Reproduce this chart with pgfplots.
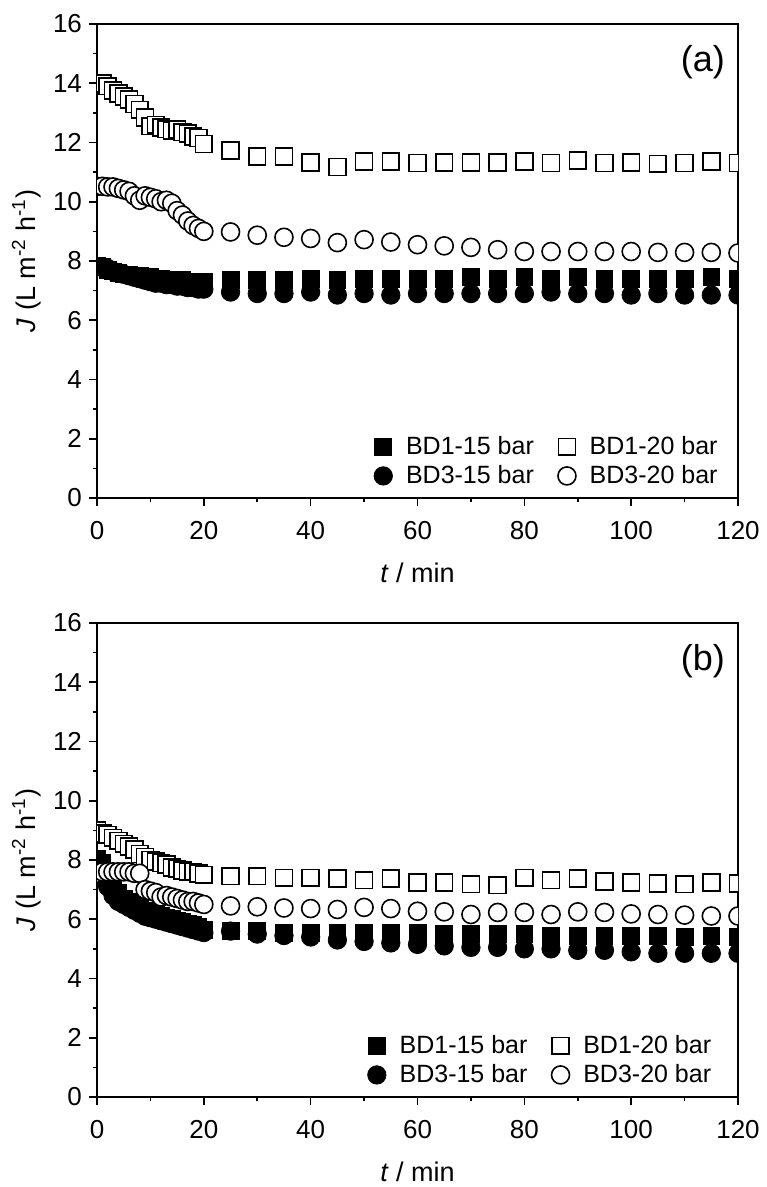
\documentclass[border=0pt]{standalone}
\usepackage{fontspec}
\setmainfont{Liberation Sans}
\usepackage{pgfplots}
\usepackage{pgfplotstable}
\pgfplotsset{compat=1.18}

% t, BD1-15, BD1-20, BD3-15, BD3-20
\pgfplotstableread{
t  a b c d
0 7.85 14.0 7.80 10.52
1 7.80 14.0 7.80 10.52
2 7.70 13.9 7.75 10.50
3 7.65 13.75 7.65 10.50
4 7.60 13.65 7.60 10.45
5 7.55 13.55 7.55 10.40
6 7.55 13.45 7.50 10.35
7 7.50 13.3 7.45 10.2
8 7.50 13.1 7.40 10.05
9 7.45 12.85 7.35 10.2
10 7.45 12.55 7.30 10.15
11 7.40 12.6 7.25 10.1
12 7.40 12.5 7.25 10.0
13 7.35 12.45 7.20 10.05
14 7.35 12.4 7.20 9.95
15 7.35 12.45 7.15 9.7
16 7.35 12.35 7.15 9.55
17 7.30 12.3 7.10 9.35
18 7.30 12.2 7.10 9.2
19 7.30 12.15 7.05 9.1
20 7.30 11.95 7.05 9.0
25 7.35 11.73 6.95 8.98
30 7.35 11.53 6.90 8.87
35 7.35 11.53 6.90 8.8
40 7.40 11.33 6.95 8.76
45 7.35 11.17 6.85 8.62
50 7.40 11.36 6.90 8.72
55 7.40 11.36 6.85 8.64
60 7.40 11.31 6.90 8.55
65 7.40 11.33 6.90 8.51
70 7.45 11.33 6.90 8.46
75 7.40 11.33 6.90 8.38
80 7.45 11.36 6.90 8.32
85 7.40 11.31 6.95 8.32
90 7.45 11.39 6.90 8.32
95 7.40 11.31 6.90 8.32
100 7.40 11.33 6.85 8.32
105 7.40 11.28 6.90 8.29
110 7.40 11.31 6.85 8.29
115 7.45 11.36 6.85 8.29
120 7.40 11.31 6.85 8.27
}\panela

\pgfplotstableread{
t  a b c d
0 8.05 9.0 7.70 7.55
1 7.90 8.9 7.40 7.60
2 7.30 8.85 7.10 7.60
3 7.00 8.75 6.80 7.60
4 6.90 8.65 6.60 7.60
5 6.70 8.55 6.50 7.60
6 6.60 8.45 6.40 7.60
7 6.50 8.35 6.30 7.55
8 6.40 8.2 6.20 7.55
9 6.30 8.1 6.10 7.0
10 6.25 8.0 6.05 6.95
11 6.20 7.95 6.00 6.9
12 6.10 7.9 5.95 6.75
13 6.05 7.85 5.90 6.8
14 6.00 7.75 5.85 6.75
15 5.95 7.7 5.80 6.7
16 5.90 7.65 5.75 6.65
17 5.85 7.6 5.70 6.6
18 5.80 7.6 5.65 6.6
19 5.75 7.55 5.60 6.55
20 5.65 7.5 5.55 6.5
25 5.60 7.45 5.60 6.45
30 5.60 7.45 5.50 6.42
35 5.55 7.4 5.45 6.38
40 5.55 7.4 5.40 6.36
45 5.55 7.38 5.30 6.33
50 5.55 7.32 5.25 6.40
55 5.55 7.38 5.20 6.36
60 5.55 7.24 5.15 6.27
65 5.50 7.24 5.10 6.25
70 5.50 7.18 5.05 6.16
75 5.50 7.15 5.05 6.23
80 5.50 7.40 5.00 6.23
85 5.45 7.32 5.00 6.16
90 5.45 7.38 4.95 6.25
95 5.45 7.27 4.95 6.23
100 5.45 7.24 4.90 6.18
105 5.45 7.21 4.85 6.16
110 5.40 7.18 4.85 6.14
115 5.45 7.24 4.85 6.11
120 5.40 7.21 4.85 6.11
}\panelb

% open circle with a dot in the middle
\pgfdeclareplotmark{odot}{%
  \pgfpathcircle{\pgfpointorigin}{\pgfplotmarksize}\pgfusepathqfillstroke
  \pgfpathcircle{\pgfpointorigin}{0.5pt}\pgfusepathqfill}

\pgfplotsset{
  flux/.style={
    scale only axis, anchor=south west,
    width=320.5pt, height=237pt,
    xmin=0, xmax=120, ymin=0, ymax=16,
    xtick={0,20,...,120}, ytick={0,2,...,16},
    minor x tick num=1, minor y tick num=1,
    tick align=outside, xtick pos=bottom, ytick pos=left,
    major tick length=4pt, minor tick length=2.2pt,
    axis line style={line width=1pt}, tick style={line width=0.8pt, black},
    /pgf/number format/assume math mode=true,
    tick label style={font=\fontsize{13}{15}\selectfont},
    xticklabel style={yshift=-4pt},
    label style={font=\fontsize{13.5}{16}\selectfont},
    xlabel={\textit{t} / min},
    ylabel={\textit{J} (L m\textsuperscript{-2} h\textsuperscript{-1})},
    xlabel style={yshift=-5pt},
    ylabel style={yshift=-1pt},
    clip marker paths=true,
    legend columns=2, legend cell align=left,
    legend image code/.code={%
      \path[draw=none] (-0.3cm,0cm) (0.33cm,0cm);
      \draw[##1] plot coordinates {(0cm,0cm)};},
    legend style={draw=none, fill=none, anchor=south east,
      font=\fontsize{12.5}{14}\selectfont, inner sep=0pt, row sep=0pt,
      /tikz/every even column/.append style={column sep=6pt}},
  },
  fsq/.style={only marks, mark=square*, mark size=4.2pt, black, mark options={solid, fill=black}},
  osq/.style={only marks, mark=square*, mark size=4.2pt, black, mark options={solid, fill=white, line width=0.8pt}},
  fci/.style={only marks, mark=*, mark size=4.6pt, black, mark options={solid, fill=black}},
  oci/.style={only marks, mark=odot, mark size=4.5pt, black, mark options={solid, fill=white, line width=0.8pt}},
}

\begin{document}
\begin{tikzpicture}
\path[use as bounding box] (0,0) rectangle (383pt,593.5pt);

\begin{axis}[flux, at={(48.5pt,344.5pt)},
  legend style={at={(0.975,0.015)}}]
  \addplot[fsq] table[x=t, y=a] {\panela};
  \addplot[osq] table[x=t, y=b] {\panela};
  \addplot[fci] table[x=t, y=c] {\panela};
  \addplot[oci] table[x=t, y=d] {\panela};
  \legend{BD1-15 bar, BD1-20 bar, BD3-15 bar, BD3-20 bar}
  \node[anchor=north east, inner sep=0pt, font=\fontsize{18}{20}\selectfont]
    at (rel axis cs:0.98,0.955) {(a)};
\end{axis}

\begin{axis}[flux, at={(48.5pt,45pt)},
  legend style={at={(0.965,0.015)}}]
  \addplot[fsq] table[x=t, y=a] {\panelb};
  \addplot[osq] table[x=t, y=b] {\panelb};
  \addplot[fci] table[x=t, y=c] {\panelb};
  \addplot[oci] table[x=t, y=d] {\panelb};
  \legend{BD1-15 bar, BD1-20 bar, BD3-15 bar, BD3-20 bar}
  \node[anchor=north east, inner sep=0pt, font=\fontsize{18}{20}\selectfont]
    at (rel axis cs:0.98,0.955) {(b)};
\end{axis}
\end{tikzpicture}
\end{document}
